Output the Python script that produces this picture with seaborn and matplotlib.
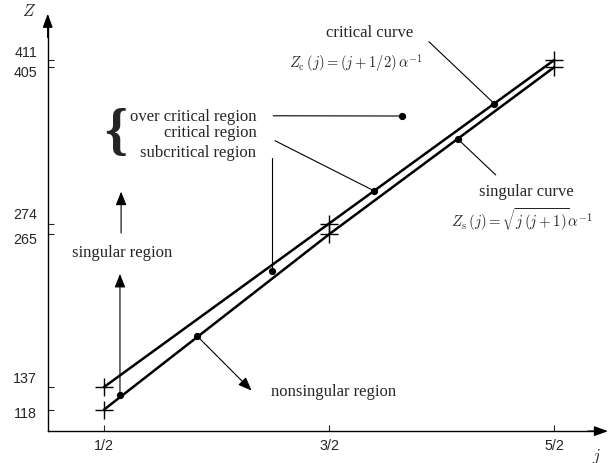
import matplotlib
matplotlib.use("Agg")
import matplotlib.pyplot as plt
import seaborn as sns
import pandas as pd

# ---- data ----
j_vals = [0.5, 1.5, 2.5]
z_critical = [137, 274, 411]
z_singular = [118, 265, 405]
x_tick_labels = ["1/2", "3/2", "5/2"]
y_tick_values = [118, 137, 265, 274, 405, 411]
y_label_z = [115.0, 144.6, 261.1, 282.1, 401.3, 417.6]

# annotation anchor points (j, Z)
dot_j = [2.235, 1.824, 1.700, 1.245, 2.072, 0.912, 0.571]
dot_z = [374.5, 364.2, 301.5, 234.5, 345.0, 180.1, 130.0]

sns.set_style("white")
plt.rcParams["font.family"] = ["Liberation Serif", "DejaVu Serif"]
plt.rcParams["mathtext.fontset"] = "cm"

fig = plt.figure(figsize=(6.08, 4.64), dpi=100)
ax = fig.add_axes([0, 0, 1, 1])
ax.set_xlim(0.0378, 2.74)
ax.set_ylim(73.3, 462.3)

df = pd.DataFrame({"j": j_vals * 2,
                   "Z": z_critical + z_singular,
                   "curve": ["critical"] * 3 + ["singular"] * 3})
sns.lineplot(data=df, x="j", y="Z", hue="curve", palette=["black", "black"],
             lw=1.8, marker="+", markersize=13, markeredgewidth=1.0,
             markeredgecolor="black", legend=False, ax=ax, sort=False)
ax.set_xlabel("")
ax.set_ylabel("")

# axes as spines
for s in ["top", "right"]:
    ax.spines[s].set_visible(False)
ax.spines["left"].set_position(("data", 0.25))
ax.spines["bottom"].set_position(("data", 100))
ax.spines["left"].set_bounds(100, 445)
ax.spines["bottom"].set_bounds(0.25, 2.72)
for s in ["left", "bottom"]:
    ax.spines[s].set_color("black")
    ax.spines[s].set_linewidth(1.0)
ax.set_xticks(j_vals, x_tick_labels, family="Liberation Sans", fontsize=10.3)
ax.set_yticks(y_tick_values, [""] * len(y_tick_values))
ax.tick_params(axis="x", direction="in", length=4, width=0.8, pad=5, bottom=True)
ax.tick_params(axis="y", direction="in", length=4, width=0.8, left=True)
for v, zl in zip(y_tick_values, y_label_z):
    ax.text(0.203, zl, str(v), family="Liberation Sans", fontsize=10.3,
            ha="right", va="center")

ah = dict(arrowstyle="-|>,head_length=0.55,head_width=0.2", color="black",
          lw=1.0, mutation_scale=15, shrinkA=0, shrinkB=0)
ax.annotate("", xy=(0.25, 450), xytext=(0.25, 430), arrowprops=ah)
ax.annotate("", xy=(2.74, 100), xytext=(2.65, 100), arrowprops=ah)
ax.text(0.167, 452, "$Z$", fontsize=12, ha="center", va="center")
ax.text(2.69, 80, "$j$", fontsize=12, ha="center", va="center")

# leader lines
lw_l = 0.8
ax.plot([1.944, dot_j[0]], [426.5, dot_z[0]], color="k", lw=lw_l)
ax.plot([1.252, dot_j[1]], [364.4, dot_z[1]], color="k", lw=lw_l)
ax.plot([1.26, dot_j[2]], [343.5, dot_z[2]], color="k", lw=lw_l)
ax.plot([1.245, dot_j[3]], [329.0, dot_z[3]], color="k", lw=lw_l)
ax.plot([dot_j[4], 2.241], [dot_z[4], 314.8], color="k", lw=lw_l)

ah2 = dict(arrowstyle="-|>,head_length=0.55,head_width=0.22", color="black",
           lw=0.8, mutation_scale=15, shrinkA=0, shrinkB=0)
ax.annotate("", xy=(1.156, 134.0), xytext=(dot_j[5], dot_z[5]), arrowprops=ah2)
ax.annotate("", xy=(0.571, 231.8), xytext=(dot_j[6], dot_z[6]), arrowprops=ah2)
ax.annotate("", xy=(0.576, 300.8), xytext=(0.576, 266.1), arrowprops=ah2)

ax.plot(dot_j, dot_z, "o", color="k", ms=4.2, ls="none")

# texts
fs = 12
ax.text(1.873, 434.7, "critical curve", fontsize=fs, ha="right", va="center")
ax.text(1.916, 409.5, r"$Z_{\rm c}\,(j) = (j+1/2)\,\alpha^{-1}$", fontsize=10.5,
        ha="right", va="center")
ax.text(2.378, 301.3, "singular curve", fontsize=fs, ha="center", va="center")
ax.text(2.356, 277.9, r"$Z_{\rm s}\,(j) = \sqrt{j\,(j+1)}\alpha^{-1}$", fontsize=10.7,
        ha="center", va="center")
ax.text(1.177, 364.5, "over critical region", fontsize=fs, ha="right", va="center")
ax.text(1.177, 350.5, "critical region", fontsize=fs, ha="right", va="center")
ax.text(1.177, 334.3, "subcritical region", fontsize=fs, ha="right", va="center")
ax.text(0.553, 350.0, "{", fontsize=42, ha="center", va="center", fontweight="bold")
ax.text(0.58, 250.5, "singular region", fontsize=fs, ha="center", va="center")
ax.text(1.242, 133.7, "nonsingular region", fontsize=fs, ha="left", va="center")

fig.savefig("out.png", dpi=100)
